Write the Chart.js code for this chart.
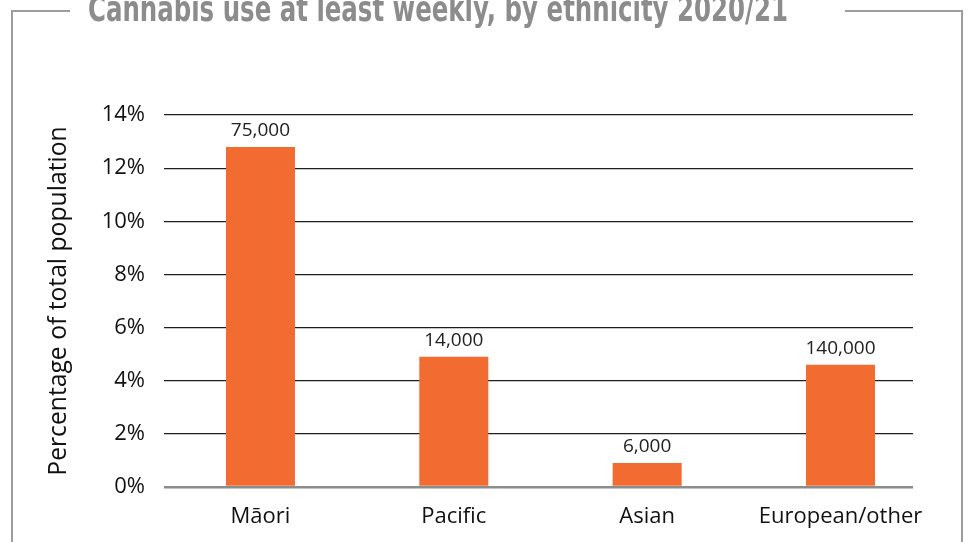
<!DOCTYPE html>
<html>
<head>
<meta charset="utf-8">
<script src="https://cdn.jsdelivr.net/npm/chart.js@4"></script>
<style>
  html, body { margin: 0; padding: 0; background: #fff; }
  #wrap { width: 968px; height: 542px; }
</style>
</head>
<body>
<div id="wrap"><canvas id="cannabis-chart" width="968" height="542"></canvas></div>
<script>
const chartTitle = 'Cannabis use at least weekly, by ethnicity 2020/21';
const categories = ['Māori', 'Pacific', 'Asian', 'European/other'];
const percentValues = [12.8, 4.9, 0.9, 4.6];
const peopleCounts = ['75,000', '14,000', '6,000', '140,000'];
const yTicks = [0, 2, 4, 6, 8, 10, 12, 14];

const barColor = '#f26c32';
const frameColor = '#9d9d9d';
const fontFamily = '"Open Sans", "Liberation Sans", sans-serif';

// frame + title sitting in the gap of the top border
const framePlugin = {
    id: 'framePlugin',
    afterDraw(chart) {
        const ctx = chart.ctx;
        ctx.save();
        ctx.strokeStyle = frameColor;
        ctx.lineWidth = 2;
        ctx.beginPath();
        ctx.moveTo(12, 560);
        ctx.lineTo(12, 11);
        ctx.lineTo(70, 11);
        ctx.moveTo(845, 11);
        ctx.lineTo(962, 11);
        ctx.lineTo(962, 560);
        ctx.stroke();

        ctx.font = 'bold 31px "Liberation Sans Narrow", "DejaVu Sans Condensed", sans-serif';
        ctx.fillStyle = '#8c8c8c';
        ctx.textBaseline = 'alphabetic';
        const w = ctx.measureText(chartTitle).width;
        ctx.translate(88, 21);
        ctx.scale(700 / w, 1.15);
        ctx.fillText(chartTitle, 0, 0);
        ctx.restore();
    }
};

// population counts above each bar
const countLabels = {
    id: 'countLabels',
    afterDatasetsDraw(chart) {
        const ctx = chart.ctx;
        const meta = chart.getDatasetMeta(0);
        ctx.save();
        ctx.font = '19px ' + fontFamily;
        ctx.fillStyle = '#222';
        ctx.textAlign = 'center';
        ctx.textBaseline = 'alphabetic';
        meta.data.forEach((bar, i) => {
            ctx.fillText(peopleCounts[i], bar.x, bar.y - 11);
        });
        ctx.restore();
    }
};

const ctx = document.getElementById('cannabis-chart').getContext('2d');
new Chart(ctx, {
    type: 'bar',
    data: {
        datasets: [{
            data: categories.map((c, i) => ({ x: i, y: percentValues[i] })),
            backgroundColor: barColor,
            borderWidth: 0,
            categoryPercentage: 1,
            barPercentage: 0.357
        }]
    },
    options: {
        responsive: false,
        animation: false,
        devicePixelRatio: 1,
        layout: { padding: { top: 115, right: 55, bottom: 0, left: 0 } },
        plugins: {
            legend: { display: false },
            title: { display: false },
            tooltip: { enabled: false }
        },
        scales: {
            x: {
                type: 'linear',
                offset: false,
                min: -0.499,
                max: 3.375,
                afterBuildTicks(scale) { scale.ticks = categories.map((c, i) => ({ value: i })); },
                grid: { display: false, offset: false },
                border: { display: false },
                ticks: {
                    color: '#111',
                    font: { family: fontFamily, size: 22 },
                    padding: 9,
                    maxRotation: 0,
                    callback: v => categories[v]
                },
                afterFit(scale) { scale.height = 55; }
            },
            y: {
                min: 0,
                max: 14,
                afterBuildTicks(scale) { scale.ticks = yTicks.map(v => ({ value: v })); },
                border: { display: false },
                grid: {
                    drawTicks: false,
                    color: c => c.tick && c.tick.value === 0 ? '#8c8c8c' : '#1e1e1e',
                    lineWidth: c => c.tick && c.tick.value === 0 ? 2.5 : 1.2
                },
                ticks: {
                    color: '#111',
                    font: { family: fontFamily, size: 22 },
                    padding: 19,
                    callback: v => v + '%'
                },
                title: {
                    display: true,
                    text: 'Percentage of total population',
                    color: '#111',
                    font: { family: fontFamily, size: 24.7 },
                    padding: { top: 44, bottom: 0 }
                },
                afterFit(scale) { scale.width = 164; }
            }
        }
    },
    plugins: [framePlugin, countLabels]
});
</script>
</body>
</html>
